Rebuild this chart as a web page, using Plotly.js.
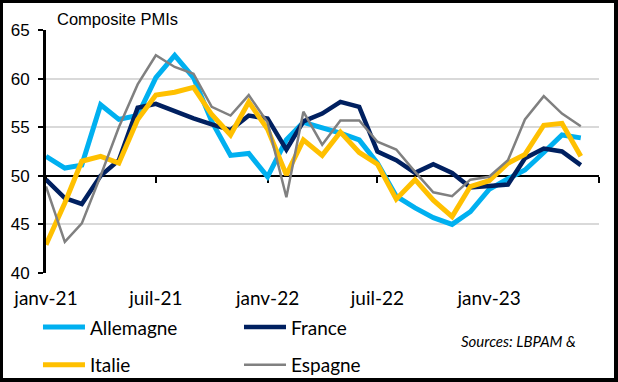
<!DOCTYPE html>
<html>
<head>
<meta charset="utf-8">
<script src="https://cdn.plot.ly/plotly-3.0.1.min.js"></script>
<style>
html, body { margin: 0; padding: 0; background: #fff; }
#wrap { position: relative; width: 618px; height: 382px; }
#chart { width: 618px; height: 382px; }
#frame { position: absolute; left: 0; top: 0; width: 618px; height: 382px; box-sizing: border-box;
  border-style: solid; border-color: #000; border-width: 3px 4px 4px 3px; pointer-events: none; }
</style>
</head>
<body>
<div id="wrap"><div id="chart"></div><div id="frame"></div></div>
<script>
const months = ["2021-01","2021-02","2021-03","2021-04","2021-05","2021-06","2021-07","2021-08","2021-09","2021-10","2021-11","2021-12",
  "2022-01","2022-02","2022-03","2022-04","2022-05","2022-06","2022-07","2022-08","2022-09","2022-10","2022-11","2022-12",
  "2023-01","2023-02","2023-03","2023-04","2023-05","2023-06"];
const allemagne = [52.0,50.8,51.1,57.3,55.8,56.2,60.1,62.4,60.1,55.6,52.1,52.3,49.9,53.7,55.5,55.0,54.4,53.7,51.3,47.9,46.7,45.7,45.0,46.3,48.6,49.7,50.6,52.4,54.2,53.9];
const france    = [49.6,47.7,47.1,50.0,51.6,57.0,57.4,56.6,55.9,55.3,54.7,56.2,55.9,52.7,55.6,56.4,57.6,57.1,52.5,51.6,50.3,51.2,50.3,48.8,49.0,49.1,51.8,52.8,52.5,51.1];
const italie    = [42.9,47.2,51.5,52.0,51.3,55.8,58.3,58.6,59.1,56.3,54.2,57.6,54.8,50.1,53.7,52.1,54.5,52.4,51.2,47.6,49.6,47.5,45.8,48.9,49.5,51.3,52.2,55.2,55.4,52.0];
const espagne   = [48.9,43.2,45.1,50.0,55.0,59.4,62.4,61.2,60.5,57.1,56.2,58.3,55.5,47.8,56.6,53.2,55.7,55.7,53.5,52.7,50.4,48.3,47.9,49.6,49.9,51.6,55.8,58.2,56.4,55.1];
const seriesNames = ["Allemagne","France","Italie","Espagne"];
const tickDates = ["2021-01-01","2021-07-01","2022-01-01","2022-07-01","2023-01-01"];
const tickLabels = ["janv-21","juil-21","janv-22","juil-22","janv-23"];
const midTickDates = ["2021-01-01","2021-07-01","2022-01-01","2022-07-01","2023-01-01","2023-07-01"];
const xRange = ["2021-01-01","2023-07-01"];
const yTicks = [40,45,50,55,60,65];

const colors = ["#00B0F0","#002060","#FFC000","#808080"];
const widths = [5,4.5,5,2.5];
const legends = ["legend","legend2","legend","legend2"];
const xaxes = ["x","x2","x2","x2"];
const data = [allemagne, france, italie, espagne].map((vals, i) => ({
  type: "scatter", mode: "lines", x: months, y: vals, name: seriesNames[i],
  xaxis: xaxes[i], yaxis: "y",
  line: {color: colors[i], width: widths[i]},
  legend: legends[i], legendgroup: "g" + i
}));

const legFont = {family: "Lato, 'Liberation Sans', sans-serif", size: 19, color: "#000"};
const layout = {
  width: 618, height: 382,
  margin: {l: 46, r: 19, t: 30, b: 109, autoexpand: false},
  paper_bgcolor: "#fff", plot_bgcolor: "#fff",
  title: {text: "Composite PMIs", font: {family: "'Liberation Sans', Arial, sans-serif", size: 16.5, color: "#000"},
    xref: "container", x: 57/618, xanchor: "left", yref: "container", y: 1 - 19/382, yanchor: "middle"},
  xaxis: {type: "date", range: xRange, tickvals: tickDates, ticktext: tickLabels,
    showgrid: false, showline: false, zeroline: false, ticks: "outside", ticklen: 8, tickcolor: "rgba(0,0,0,0)",
    tickfont: legFont, automargin: false},
  xaxis2: {type: "date", range: xRange, overlaying: "x", anchor: "free", position: 0.4, side: "bottom",
    tickvals: midTickDates, showticklabels: false, showgrid: false, zeroline: false,
    showline: true, linecolor: "#000", linewidth: 2.5, ticks: "outside", ticklen: 6, tickwidth: 2, tickcolor: "#000",
    layer: "below traces", automargin: false},
  yaxis: {range: [40, 65], tickvals: yTicks, showgrid: true, gridcolor: "#D9D9D9", gridwidth: 2,
    showline: true, linecolor: "#000", linewidth: 3, ticks: "outside", ticklen: 5, tickwidth: 2, tickcolor: "#000",
    zeroline: false, tickfont: {family: "'Liberation Sans', Arial, sans-serif", size: 17, color: "#000"},
    ticklabelstandoff: 5, layer: "below traces", automargin: false},
  legend: {orientation: "v", x: -0.0145, xanchor: "left", y: -0.145, yanchor: "top",
    font: legFont, tracegroupgap: 10, itemwidth: 42, bgcolor: "rgba(0,0,0,0)", traceorder: "grouped"},
  legend2: {orientation: "v", x: 0.349, xanchor: "left", y: -0.145, yanchor: "top",
    font: legFont, tracegroupgap: 10, itemwidth: 42, bgcolor: "rgba(0,0,0,0)", traceorder: "grouped"},
  annotations: [{text: "<i>Sources: LBPAM &amp;</i>", xref: "paper", yref: "paper",
    x: (459-46)/553, xanchor: "left", y: (273-341)/243, yanchor: "middle", showarrow: false,
    font: {family: "Lato, 'Liberation Sans', sans-serif", size: 15, color: "#000"}}]
};
Plotly.newPlot("chart", data, layout, {staticPlot: true, displayModeBar: false});
</script>
</body>
</html>
